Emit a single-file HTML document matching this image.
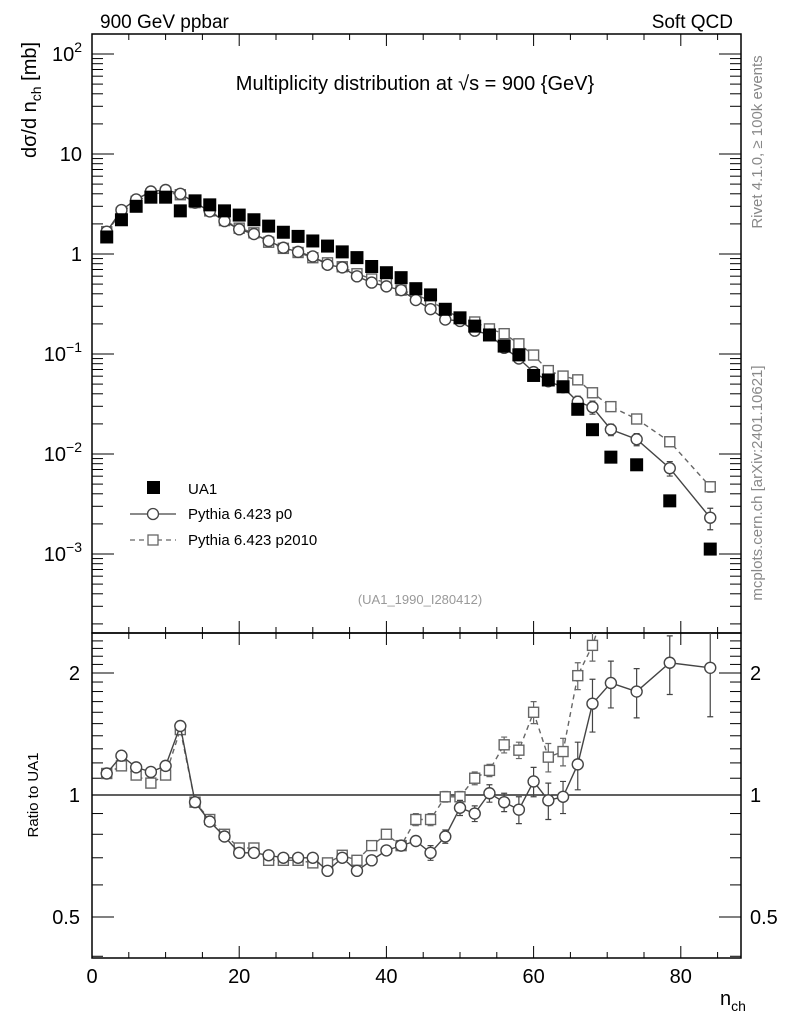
<!DOCTYPE html>
<html><head><meta charset="utf-8"><style>
html,body{margin:0;padding:0;background:#fff;}
svg{display:block;font-family:"Liberation Sans",sans-serif;}
</style></head><body>
<svg id="chart" width="786" height="1024" viewBox="0 0 786 1024">
<text x="100" y="28" font-size="19">900 GeV ppbar</text>
<text x="733" y="28" font-size="19" text-anchor="end">Soft QCD</text>
<text x="415" y="90" font-size="20" text-anchor="middle">Multiplicity distribution at √s = 900 {GeV}</text>
<text x="420" y="604" font-size="13" fill="#999" text-anchor="middle">(UA1_1990_I280412)</text>
<text transform="translate(36,100) rotate(-90)" font-size="20" text-anchor="middle">dσ/d n<tspan font-size="14" dy="5">ch</tspan><tspan dy="-5"> [mb]</tspan></text>
<text transform="translate(38,795) rotate(-90)" font-size="15" text-anchor="middle">Ratio to UA1</text>
<text x="720" y="1005" font-size="20">n<tspan font-size="14" dy="6">ch</tspan></text>
<text transform="translate(762,142) rotate(-90)" font-size="15" fill="#888" text-anchor="middle">Rivet 4.1.0, ≥ 100k events</text>
<text transform="translate(762,483) rotate(-90)" font-size="15" fill="#888" text-anchor="middle">mcplots.cern.ch [arXiv:2401.10621]</text>
<g id="axes"></g>
<g id="marks"></g>
<g>
<rect x="147" y="481" width="13" height="13" fill="#000"/>
<text x="188" y="494" font-size="15">UA1</text>
<line x1="130" y1="514" x2="176" y2="514" stroke="#444" stroke-width="1.3"/>
<circle cx="153" cy="514" r="5.5" fill="#fff" stroke="#444" stroke-width="1.3"/>
<text x="188" y="519" font-size="15">Pythia 6.423 p0</text>
<line x1="130" y1="540" x2="176" y2="540" stroke="#666" stroke-width="1.3" stroke-dasharray="5,4"/>
<rect x="148" y="535" width="10" height="10" fill="#fff" stroke="#666" stroke-width="1.3"/>
<text x="188" y="545" font-size="15">Pythia 6.423 p2010</text>
</g>
</svg>
<script>
const nch = [2,4,6,8,10,12,14,16,18,20,22,24,26,28,30,32,34,36,38,40,42,44,46,48,50,52,54,56,58,60,62,64,66,68,70.5,74,78.5,84];
const ua1 = [1.48,2.2,3.0,3.7,3.7,2.7,3.4,3.1,2.7,2.45,2.2,1.9,1.65,1.5,1.35,1.2,1.05,0.92,0.75,0.65,0.58,0.45,0.39,0.28,0.23,0.19,0.155,0.12,0.098,0.061,0.055,0.047,0.028,0.0175,0.0093,0.0078,0.0034,0.00112];
const ratioP0 = [1.13,1.25,1.17,1.14,1.18,1.48,0.96,0.86,0.79,0.72,0.72,0.71,0.70,0.70,0.70,0.65,0.70,0.65,0.69,0.73,0.75,0.77,0.72,0.79,0.93,0.90,1.01,0.96,0.92,1.08,0.97,0.99,1.19,1.68,1.89,1.80,2.12,2.06];
const errP0 = [0.01,0.01,0.01,0.01,0.01,0.01,0.01,0.01,0.01,0.01,0.01,0.01,0.01,0.01,0.01,0.01,0.01,0.01,0.01,0.015,0.015,0.02,0.03,0.03,0.04,0.04,0.05,0.05,0.07,0.09,0.1,0.09,0.16,0.25,0.25,0.25,0.35,0.5];
const ratioP2010 = [1.13,1.18,1.12,1.07,1.12,1.45,0.96,0.87,0.80,0.74,0.74,0.69,0.69,0.69,0.68,0.68,0.71,0.69,0.75,0.80,0.75,0.87,0.87,0.99,0.99,1.10,1.15,1.33,1.29,1.60,1.24,1.28,1.97,2.34,3.2,2.87,3.9,4.2];
const errP2010 = [0.01,0.01,0.01,0.01,0.01,0.01,0.01,0.01,0.01,0.01,0.01,0.01,0.01,0.01,0.01,0.01,0.01,0.01,0.01,0.015,0.02,0.03,0.03,0.03,0.03,0.04,0.04,0.06,0.06,0.1,0.1,0.1,0.15,0.2,0.25,0.25,0.35,0.5];
const xTicks = [0,20,40,60,80];
const mainTickLabels = ["10³","10²","10","1","10⁻¹","10⁻²","10⁻³"];
const ratioTicks = [0.5,1,2];

const NS='http://www.w3.org/2000/svg';
const L=92,R=741,T=34,MB=633,RB=958;
const X=v=>L+(v)*7.36;
const Y=v=>254-100*Math.log10(v);
const YR=v=>795-122*Math.log2(v);
const ax=document.getElementById('axes'), mk=document.getElementById('marks');
function el(tag,attrs,parent){const e=document.createElementNS(NS,tag);for(const k in attrs)e.setAttribute(k,attrs[k]);parent.appendChild(e);return e;}

// frames
let f1=el('rect',{x:L,y:T,width:R-L,height:MB-T,fill:'none',stroke:'#000','stroke-width':1.5},ax);


let f2=el('rect',{x:L,y:MB,width:R-L,height:RB-MB,fill:'none',stroke:'#000','stroke-width':1.5},ax);



// x ticks
for(let v=0;v<=88;v+=5){
  const maj=v%20===0, x=X(v);
  [[T,1],[MB,-1],[MB,1],[RB,-1]].forEach(([y0,d])=>{
    const len=maj?12:6;
    const t=el('line',{x1:x,x2:x,y1:y0,y2:y0+d*len,stroke:'#000','stroke-width':1},ax);
    
    
  });
}
xTicks.forEach(v=>{
  const t=el('text',{x:X(v),y:983,'font-size':20,'text-anchor':'middle'},ax);t.textContent=v;
  
  
});
// main y ticks
for(let e=-4;e<=2;e++){
  for(let m=1;m<10;m++){
    const v=m*Math.pow(10,e), y=Y(v);
    if(y<T||y>MB)continue;
    const len=m===1?22:11;
    [[L,1],[R,-1]].forEach(([x0,d])=>{
      const t=el('line',{x1:x0,x2:x0+d*len,y1:y,y2:y,stroke:'#000','stroke-width':1},ax);
      
      
    });
  }
}
mainTickLabels.forEach((s,i)=>{
  const e=3-i, y=Y(Math.pow(10,e));
  if(y<T||y>MB)return;
  const t=el('text',{x:82,y:y+7,'font-size':20,'text-anchor':'end'},ax);
  if(s.length>2&&s.startsWith('10')){t.textContent='10';const sp=el('tspan',{dy:-9,'font-size':14},t);sp.textContent=s.slice(2).replace('⁻','−').replace('¹','1').replace('²','2').replace('³','3');}
  else t.textContent=s;
  
  
});
// ratio y ticks
for(let v=0.4;v<=2.45;v+=0.1){
  const r=Math.round(v*10)/10, y=YR(r);
  if(y<MB||y>RB)continue;
  const maj=ratioTicks.includes(r), len=maj?22:11;
  [[L,1],[R,-1]].forEach(([x0,d])=>{
    const t=el('line',{x1:x0,x2:x0+d*len,y1:y,y2:y,stroke:'#000','stroke-width':1},ax);
    
    
  });
}
ratioTicks.forEach(v=>{
  const a=el('text',{x:80,y:YR(v)+7,'font-size':20,'text-anchor':'end'},ax);a.textContent=v;
  
  
  const b=el('text',{x:750,y:YR(v)+7,'font-size':20},ax);b.textContent=v;
  
  
});
let one=el('line',{x1:L,x2:R,y1:YR(1),y2:YR(1),stroke:'#000','stroke-width':1.3},ax);



// clip paths
const defs=el('defs',{},mk);
const c1=el('clipPath',{id:'cm'},defs);el('rect',{x:L,y:T,width:R-L,height:MB-T},c1);
const c2=el('clipPath',{id:'cr'},defs);el('rect',{x:L,y:MB,width:R-L,height:RB-MB},c2);
const gm=el('g',{'clip-path':'url(#cm)'},mk), gr=el('g',{'clip-path':'url(#cr)'},mk);

function series(g,yf,vals,errs,style,name){
  const pts=vals.map((v,i)=>X(nch[i])+','+yf(v)).join(' ');
  const pl=el('polyline',{points:pts,fill:'none',stroke:style.c,'stroke-width':1.4,'stroke-dasharray':style.dash||'none'},g);
  
  
  vals.forEach((v,i)=>{
    const x=X(nch[i]),y=yf(v),y1=yf(v+errs[i]),y2=yf(Math.max(v-errs[i],1e-6));
    if(Math.abs(y2-y1)>8){
      const eb=el('path',{d:`M${x},${y1}V${y2}M${x-3},${y1}H${x+3}M${x-3},${y2}H${x+3}`,stroke:style.c,'stroke-width':1.2,fill:'none'},g);
      
      
    }
    let m;
    if(style.sq) m=el('rect',{x:x-5,y:y-5,width:10,height:10,fill:'#fff',stroke:style.c,'stroke-width':1.4},g);
    else m=el('circle',{cx:x,cy:y,r:5.5,fill:'#fff',stroke:style.c,'stroke-width':1.4},g);
    
    
  });
}
const p0Main=ua1.map((v,i)=>v*ratioP0[i]), p0MainErr=ua1.map((v,i)=>v*errP0[i]);
const p2Main=ua1.map((v,i)=>v*ratioP2010[i]), p2MainErr=ua1.map((v,i)=>v*errP2010[i]);
series(gm,Y,p2Main,p2MainErr,{c:'#666',dash:'5,4',sq:true},'p2010');
series(gm,Y,p0Main,p0MainErr,{c:'#444'},'p0');
ua1.forEach((v,i)=>{
  const r=el('rect',{x:X(nch[i])-6.5,y:Y(v)-6.5,width:13,height:13,fill:'#000'},gm);
  
  
});
series(gr,YR,ratioP2010,errP2010,{c:'#666',dash:'5,4',sq:true},'ratio-p2010');
series(gr,YR,ratioP0,errP0,{c:'#444'},'ratio-p0');
</script>
</body></html>
